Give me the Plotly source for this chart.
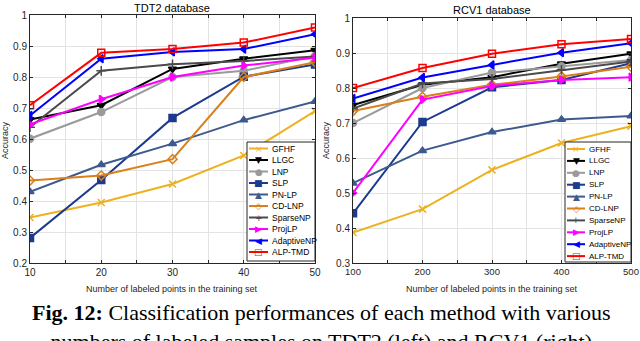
import plotly.graph_objects as go

# ---- data ----
methods = ['GFHF', 'LLGC', 'LNP', 'SLP', 'PN-LP', 'CD-LNP', 'SparseNP', 'ProjLP', 'AdaptiveNP', 'ALP-TMD']

tdt2_x = [10, 20, 30, 40, 50]
tdt2_gfhf = [0.347, 0.395, 0.455, 0.547, 0.690]
tdt2_llgc = [0.663, 0.709, 0.826, 0.859, 0.886]
tdt2_lnp = [0.601, 0.687, 0.800, 0.820, 0.868]
tdt2_slp = [0.281, 0.468, 0.668, 0.801, 0.840]
tdt2_pnlp = [0.430, 0.517, 0.585, 0.661, 0.721]
tdt2_cdlnp = [0.466, 0.482, 0.535, 0.800, 0.848]
tdt2_sparsenp = [0.638, 0.820, 0.841, 0.852, 0.866]
tdt2_projlp = [0.647, 0.728, 0.800, 0.837, 0.862]
tdt2_adaptivenp = [0.676, 0.859, 0.881, 0.890, 0.938]
tdt2_alptmd = [0.709, 0.878, 0.890, 0.911, 0.960]

rcv1_x = [100, 200, 300, 400, 500]
rcv1_gfhf = [0.387, 0.454, 0.566, 0.643, 0.691]
rcv1_llgc = [0.751, 0.809, 0.831, 0.869, 0.898]
rcv1_lnp = [0.700, 0.800, 0.844, 0.862, 0.880]
rcv1_slp = [0.442, 0.703, 0.802, 0.823, 0.871]
rcv1_pnlp = [0.528, 0.621, 0.674, 0.710, 0.720]
rcv1_cdlnp = [0.734, 0.775, 0.809, 0.833, 0.861]
rcv1_sparsenp = [0.741, 0.813, 0.826, 0.852, 0.876]
rcv1_projlp = [0.500, 0.767, 0.806, 0.823, 0.831]
rcv1_adaptivenp = [0.770, 0.830, 0.866, 0.901, 0.928]
rcv1_alptmd = [0.800, 0.857, 0.898, 0.925, 0.940]

tdt2_series = [tdt2_gfhf, tdt2_llgc, tdt2_lnp, tdt2_slp, tdt2_pnlp,
               tdt2_cdlnp, tdt2_sparsenp, tdt2_projlp, tdt2_adaptivenp, tdt2_alptmd]
rcv1_series = [rcv1_gfhf, rcv1_llgc, rcv1_lnp, rcv1_slp, rcv1_pnlp,
               rcv1_cdlnp, rcv1_sparsenp, rcv1_projlp, rcv1_adaptivenp, rcv1_alptmd]

# ---- styles ----
colors = ['#EDB120', '#000000', '#9A9A9A', '#1C3A8E', '#3D5A8F',
          '#D9801A', '#4A4A4A', '#FF00FF', '#0000FF', '#FF0000']
symbols = ['x-thin', 'triangle-down', 'circle', 'square', 'triangle-up',
           'diamond-open', 'cross-thin', 'triangle-right', 'triangle-left', 'square-open']
glyphs = ['\u00d7', '\u25bc', '\u25cf', '\u25a0', '\u25b2', '\u25c7', '+', '\u25b6', '\u25c0', '\u25a1']

W, H = 640, 341


def px(x):
    return x / W


def py(y):
    return 1 - y / H


def note(text, x, y, size=9, color='#262626', family='Liberation Sans',
         xanchor='center', yanchor='middle', **kw):
    return dict(text=text, x=px(x), y=py(y), xref='paper', yref='paper',
                xanchor=xanchor, yanchor=yanchor, showarrow=False,
                font=dict(family=family, size=size, color=color), **kw)


fig = go.Figure()

for i, name in enumerate(methods):
    fig.add_trace(go.Scatter(
        x=tdt2_x, y=tdt2_series[i], name=name, mode='lines+markers',
        line=dict(color=colors[i], width=2),
        marker=dict(symbol=symbols[i], size=7, color=colors[i],
                    line=dict(color=colors[i], width=1.5)),
        xaxis='x', yaxis='y', showlegend=False))
    fig.add_trace(go.Scatter(
        x=rcv1_x, y=rcv1_series[i], name=name, mode='lines+markers',
        line=dict(color=colors[i], width=2),
        marker=dict(symbol=symbols[i], size=7, color=colors[i],
                    line=dict(color=colors[i], width=1.5)),
        xaxis='x2', yaxis='y2', showlegend=False))

axis_common = dict(showgrid=True, gridcolor='#E3E3E3', gridwidth=1,
                   showline=True, linecolor='#262626', linewidth=1, mirror='ticks',
                   ticks='inside', ticklen=3, tickcolor='#262626', automargin=False,
                   ticklabeloverflow='allow',
                   tickfont=dict(family='Liberation Sans', size=10, color='#262626'),
                   zeroline=False)

left_xt = list(range(10, 51, 5))
right_xt = list(range(100, 501, 50))

fig.update_layout(
    width=W, height=H,
    margin=dict(l=0, r=0, t=0, b=0),
    paper_bgcolor='white', plot_bgcolor='white',
    xaxis=dict(domain=[px(30), px(315)], range=[10, 50], anchor='y',
               tickvals=left_xt, ticktext=[str(v) if v % 10 == 0 else '' for v in left_xt],
               **axis_common),
    yaxis=dict(domain=[py(263), py(15)], range=[0.2, 1], anchor='x',
               tickvals=[0.2, 0.3, 0.4, 0.5, 0.6, 0.7, 0.8, 0.9, 1.0],
               ticktext=['0.2', '0.3', '0.4', '0.5', '0.6', '0.7', '0.8', '0.9', '1'],
               **axis_common),
    xaxis2=dict(domain=[px(353), px(631)], range=[100, 500], anchor='y2',
                tickvals=right_xt, ticktext=[str(v) if v % 100 == 0 else '' for v in right_xt],
                **axis_common),
    yaxis2=dict(domain=[py(263), py(18)], range=[0.3, 1], anchor='x2',
                tickvals=[0.3, 0.4, 0.5, 0.6, 0.7, 0.8, 0.9, 1.0],
                ticktext=['0.3', '0.4', '0.5', '0.6', '0.7', '0.8', '0.9', '1'],
                **axis_common),
)
fig.update_xaxes(tickfont_size=9.5, selector=dict(anchor='y2'))

annotations = []
shapes = []

# titles and axis labels
annotations.append(note('TDT2 database', 172, 8, size=11, color='#000'))
annotations.append(note('RCV1 database', 492, 10, size=11, color='#000'))
for cx in (172, 492):
    annotations.append(note('Number of labeled points in the training set', cx, 289))
for cx in (5, 326):
    annotations.append(note('Accuracy', cx, 140, textangle=-90))

# caption
annotations.append(note('<b>Fig. 12:</b> Classification performances of each method with various<br>'
                        'numbers of labeled samples on TDT2 (left) and RCV1 (right)',
                        321, 298, size=22, color='#000', family='Liberation Serif',
                        yanchor='top'))

# in-plot legends (drawn by hand so entries stay compact)
legend_boxes = [
    dict(x0=247, x1=315, y0=142, y1=261, row0=148.5, step=11.5, l0=249, l1=268, tx=270, fs=8.5),
    dict(x0=565, x1=631, y0=142, y1=262, row0=149.0, step=11.9, l0=567, l1=585, tx=587, fs=8),
]
for b in legend_boxes:
    shapes.append(dict(type='rect', xref='paper', yref='paper',
                       x0=px(b['x0']), x1=px(b['x1']), y0=py(b['y1']), y1=py(b['y0']),
                       line=dict(color='#262626', width=1), fillcolor='white', layer='above'))
    for i, name in enumerate(methods):
        yy = b['row0'] + i * b['step']
        shapes.append(dict(type='line', xref='paper', yref='paper',
                           x0=px(b['l0']), x1=px(b['l1']), y0=py(yy), y1=py(yy),
                           line=dict(color=colors[i], width=2), layer='above'))
        annotations.append(note(glyphs[i], (b['l0'] + b['l1']) / 2, yy, size=9,
                                color=colors[i], family='DejaVu Sans'))
        annotations.append(note(name, b['tx'], yy, size=b['fs'], color='#000', xanchor='left'))

fig.update_layout(annotations=annotations, shapes=shapes)

# drop the default page margin so the figure sits at the window corner
fig.write_html("out.html", config={'displayModeBar': False},
               post_script="document.body.style.margin = '0';")
